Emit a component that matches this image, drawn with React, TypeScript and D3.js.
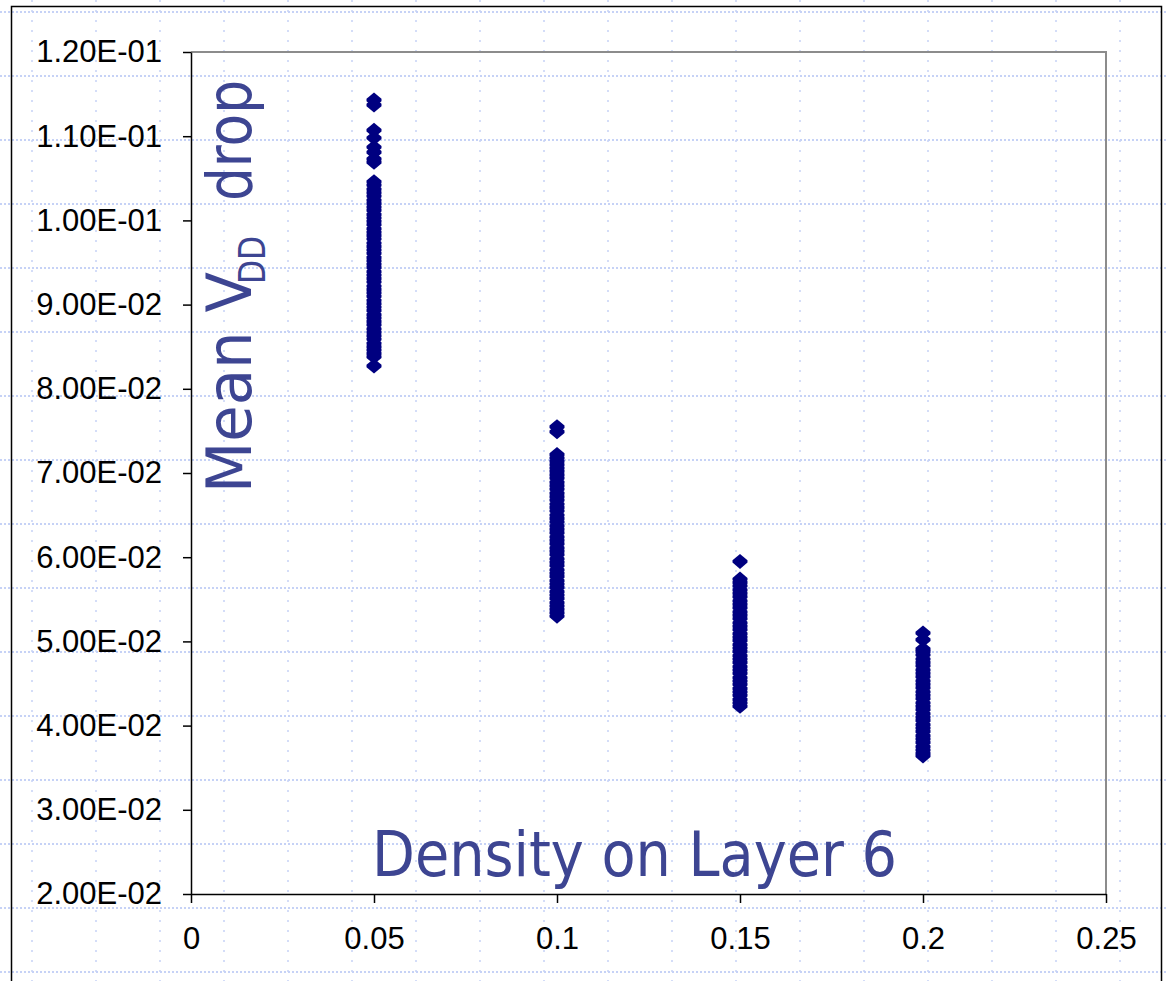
import React, { useEffect, useRef } from 'react';
import * as d3 from 'd3';

// density on layer 6 for each column of points
const densities = [0.05, 0.1, 0.15, 0.2];

// mean VDD drop values
const dropAt005 = [
  0.1143, 0.1137, 0.1107, 0.1098, 0.1087, 0.1081, 0.1073, 0.1069,
  0.1046, 0.1042, 0.1037, 0.1033, 0.1029, 0.1024, 0.1020, 0.1016, 0.1012, 0.1007,
  0.1003, 0.0999, 0.0995, 0.0990, 0.0986, 0.0982, 0.0978, 0.0973, 0.0969, 0.0965,
  0.0961, 0.0956, 0.0952, 0.0948, 0.0944, 0.0939, 0.0935, 0.0931, 0.0927, 0.0922,
  0.0918, 0.0914, 0.0910, 0.0905, 0.0901, 0.0897, 0.0893, 0.0888, 0.0884, 0.0880,
  0.0876, 0.0871, 0.0867, 0.0863, 0.0859, 0.0854, 0.0850, 0.0846, 0.0842, 0.0838,
  0.0827,
];
const dropAt010 = [
  0.0755, 0.0749,
  0.0722, 0.0718, 0.0714, 0.0710, 0.0706, 0.0702, 0.0698, 0.0694, 0.0689, 0.0685,
  0.0681, 0.0676, 0.0672, 0.0668, 0.0663, 0.0659, 0.0655, 0.0650, 0.0646, 0.0642,
  0.0637, 0.0633, 0.0629, 0.0624, 0.0620, 0.0616, 0.0611, 0.0607, 0.0603, 0.0598,
  0.0594, 0.0590, 0.0585, 0.0581, 0.0577, 0.0572, 0.0568, 0.0564, 0.0559, 0.0555,
  0.0551, 0.0546, 0.0542, 0.0538, 0.0534, 0.0530,
];
const dropAt015 = [
  0.0595,
  0.0574, 0.0570, 0.0566, 0.0561, 0.0557, 0.0553, 0.0548, 0.0544, 0.0540, 0.0535,
  0.0531, 0.0527, 0.0522, 0.0518, 0.0514, 0.0509, 0.0505, 0.0501, 0.0496, 0.0492,
  0.0488, 0.0483, 0.0479, 0.0475, 0.0470, 0.0466, 0.0462, 0.0457, 0.0453, 0.0449,
  0.0444, 0.0440, 0.0436, 0.0431, 0.0427, 0.0423,
];
const dropAt020 = [
  0.0510, 0.0502,
  0.0491, 0.0488, 0.0484, 0.0479, 0.0475, 0.0471, 0.0466, 0.0462, 0.0458, 0.0453,
  0.0449, 0.0445, 0.0440, 0.0436, 0.0432, 0.0427, 0.0423, 0.0419, 0.0414, 0.0410,
  0.0406, 0.0401, 0.0397, 0.0393, 0.0388, 0.0384, 0.0380, 0.0375, 0.0371, 0.0367,
  0.0364,
];

const xTicks = [0, 0.05, 0.1, 0.15, 0.2, 0.25];
const xTickLabels = ['0', '0.05', '0.1', '0.15', '0.2', '0.25'];
const yTicks = [0.02, 0.03, 0.04, 0.05, 0.06, 0.07, 0.08, 0.09, 0.1, 0.11, 0.12];
const yTickLabels = [
  '2.00E-02', '3.00E-02', '4.00E-02', '5.00E-02', '6.00E-02', '7.00E-02',
  '8.00E-02', '9.00E-02', '1.00E-01', '1.10E-01', '1.20E-01',
];

const App = () => {
  const svgRef = useRef(null);

  useEffect(() => {
    const width = 1167;
    const height = 981;
    const margin = { top: 52, right: 61, bottom: 87, left: 191 };

    const svg = d3.select(svgRef.current);
    svg.selectAll('*').remove();

    svg.append('rect').attr('width', width).attr('height', height).attr('fill', '#fff');

    // slide background grid (dotted)
    const gridColor = '#c6d2f6';
    const bg = svg.append('g');
    bg.selectAll('line.h')
      .data(d3.range(12, height, 64))
      .enter().append('line')
      .attr('class', 'h')
      .attr('x1', 0).attr('x2', width)
      .attr('y1', d => d).attr('y2', d => d)
      .attr('stroke', gridColor)
      .attr('stroke-width', 2)
      .attr('stroke-dasharray', '2 2');
    bg.selectAll('line.v')
      .data(d3.range(32, width, 64))
      .enter().append('line')
      .attr('class', 'v')
      .attr('x1', d => d).attr('x2', d => d)
      .attr('y1', 0).attr('y2', height)
      .attr('stroke', gridColor)
      .attr('stroke-width', 1.5)
      .attr('stroke-dasharray', '2 8');

    // outer frame
    svg.append('rect')
      .attr('x', 11.5).attr('y', 6.5)
      .attr('width', 1150).attr('height', 1000)
      .attr('fill', 'none')
      .attr('stroke', '#000')
      .attr('stroke-width', 1.5);

    const x = d3.scaleLinear()
      .domain([0, 0.25])
      .range([margin.left, width - margin.right]);
    const y = d3.scaleLinear()
      .domain([0.02, 0.12])
      .range([height - margin.bottom, margin.top]);

    // gray plot border (top, right)
    svg.append('path')
      .attr('d', `M${x(0)},${y(0.12)}H${x(0.25)}V${y(0.02)}`)
      .attr('fill', 'none')
      .attr('stroke', '#8c8c8c')
      .attr('stroke-width', 2);

    const tickFont = '"Liberation Sans", Arial, sans-serif';

    const yAxis = svg.append('g')
      .attr('transform', `translate(${x(0)},0)`)
      .call(d3.axisLeft(y)
        .tickValues(yTicks)
        .tickSize(8)
        .tickSizeOuter(0)
        .tickPadding(21)
        .tickFormat((d, i) => yTickLabels[i]));

    const xAxis = svg.append('g')
      .attr('transform', `translate(0,${y(0.02)})`)
      .call(d3.axisBottom(x)
        .tickValues(xTicks)
        .tickSize(9)
        .tickSizeOuter(0)
        .tickPadding(24)
        .tickFormat((d, i) => xTickLabels[i]));

    [yAxis, xAxis].forEach(g => {
      g.select('.domain').attr('stroke', '#000').attr('stroke-width', 1.5);
      g.selectAll('.tick line').attr('stroke', '#000').attr('stroke-width', 1.5);
      g.selectAll('.tick text')
        .attr('fill', '#000')
        .style('font-family', tickFont)
        .style('font-size', '31px');
    });

    // markers (Excel-style diamond with small flat sides)
    const series = [dropAt005, dropAt010, dropAt015, dropAt020];
    const diamond = 'M0,-7.5L7.5,-1.2L7.5,1.2L0,7.5L-7.5,1.2L-7.5,-1.2Z';
    series.forEach((vals, i) => {
      svg.append('g')
        .selectAll('path')
        .data(vals)
        .enter().append('path')
        .attr('d', diamond)
        .attr('transform', d => `translate(${x(densities[i])},${y(d)})`)
        .attr('fill', '#000080');
    });

    const titleColor = '#3d4592';
    const titleFont = '"DejaVu Sans", sans-serif';
    const condFont = '"DejaVu Sans Condensed", "DejaVu Sans", sans-serif';

    // x title inside the plot
    svg.append('text')
      .attr('x', 372)
      .attr('y', 876)
      .attr('fill', titleColor)
      .attr('textLength', 525)
      .attr('lengthAdjust', 'spacingAndGlyphs')
      .style('font-family', condFont)
      .style('font-size', '63px')
      .text('Density on Layer 6');

    // y title, rotated: "Mean V", subscript "DD", "drop"
    const yTitle = svg.append('g').attr('transform', 'rotate(-90)');
    yTitle.append('text')
      .attr('x', -493).attr('y', 251)
      .attr('fill', titleColor)
      .attr('textLength', 221)
      .attr('lengthAdjust', 'spacingAndGlyphs')
      .style('font-family', titleFont)
      .style('font-size', '63px')
      .text('Mean V');
    yTitle.append('text')
      .attr('x', -284).attr('y', 265)
      .attr('fill', titleColor)
      .attr('textLength', 48)
      .attr('lengthAdjust', 'spacingAndGlyphs')
      .style('font-family', condFont)
      .style('font-size', '37px')
      .text('DD');
    yTitle.append('text')
      .attr('x', -201).attr('y', 251)
      .attr('fill', titleColor)
      .attr('textLength', 121)
      .attr('lengthAdjust', 'spacingAndGlyphs')
      .style('font-family', titleFont)
      .style('font-size', '63px')
      .text('drop');
  }, []);

  return (
    <svg
      ref={svgRef}
      width={1167}
      height={981}
      style={{ position: 'absolute', left: 0, top: 0, display: 'block' }}
    />
  );
};

export default App;
